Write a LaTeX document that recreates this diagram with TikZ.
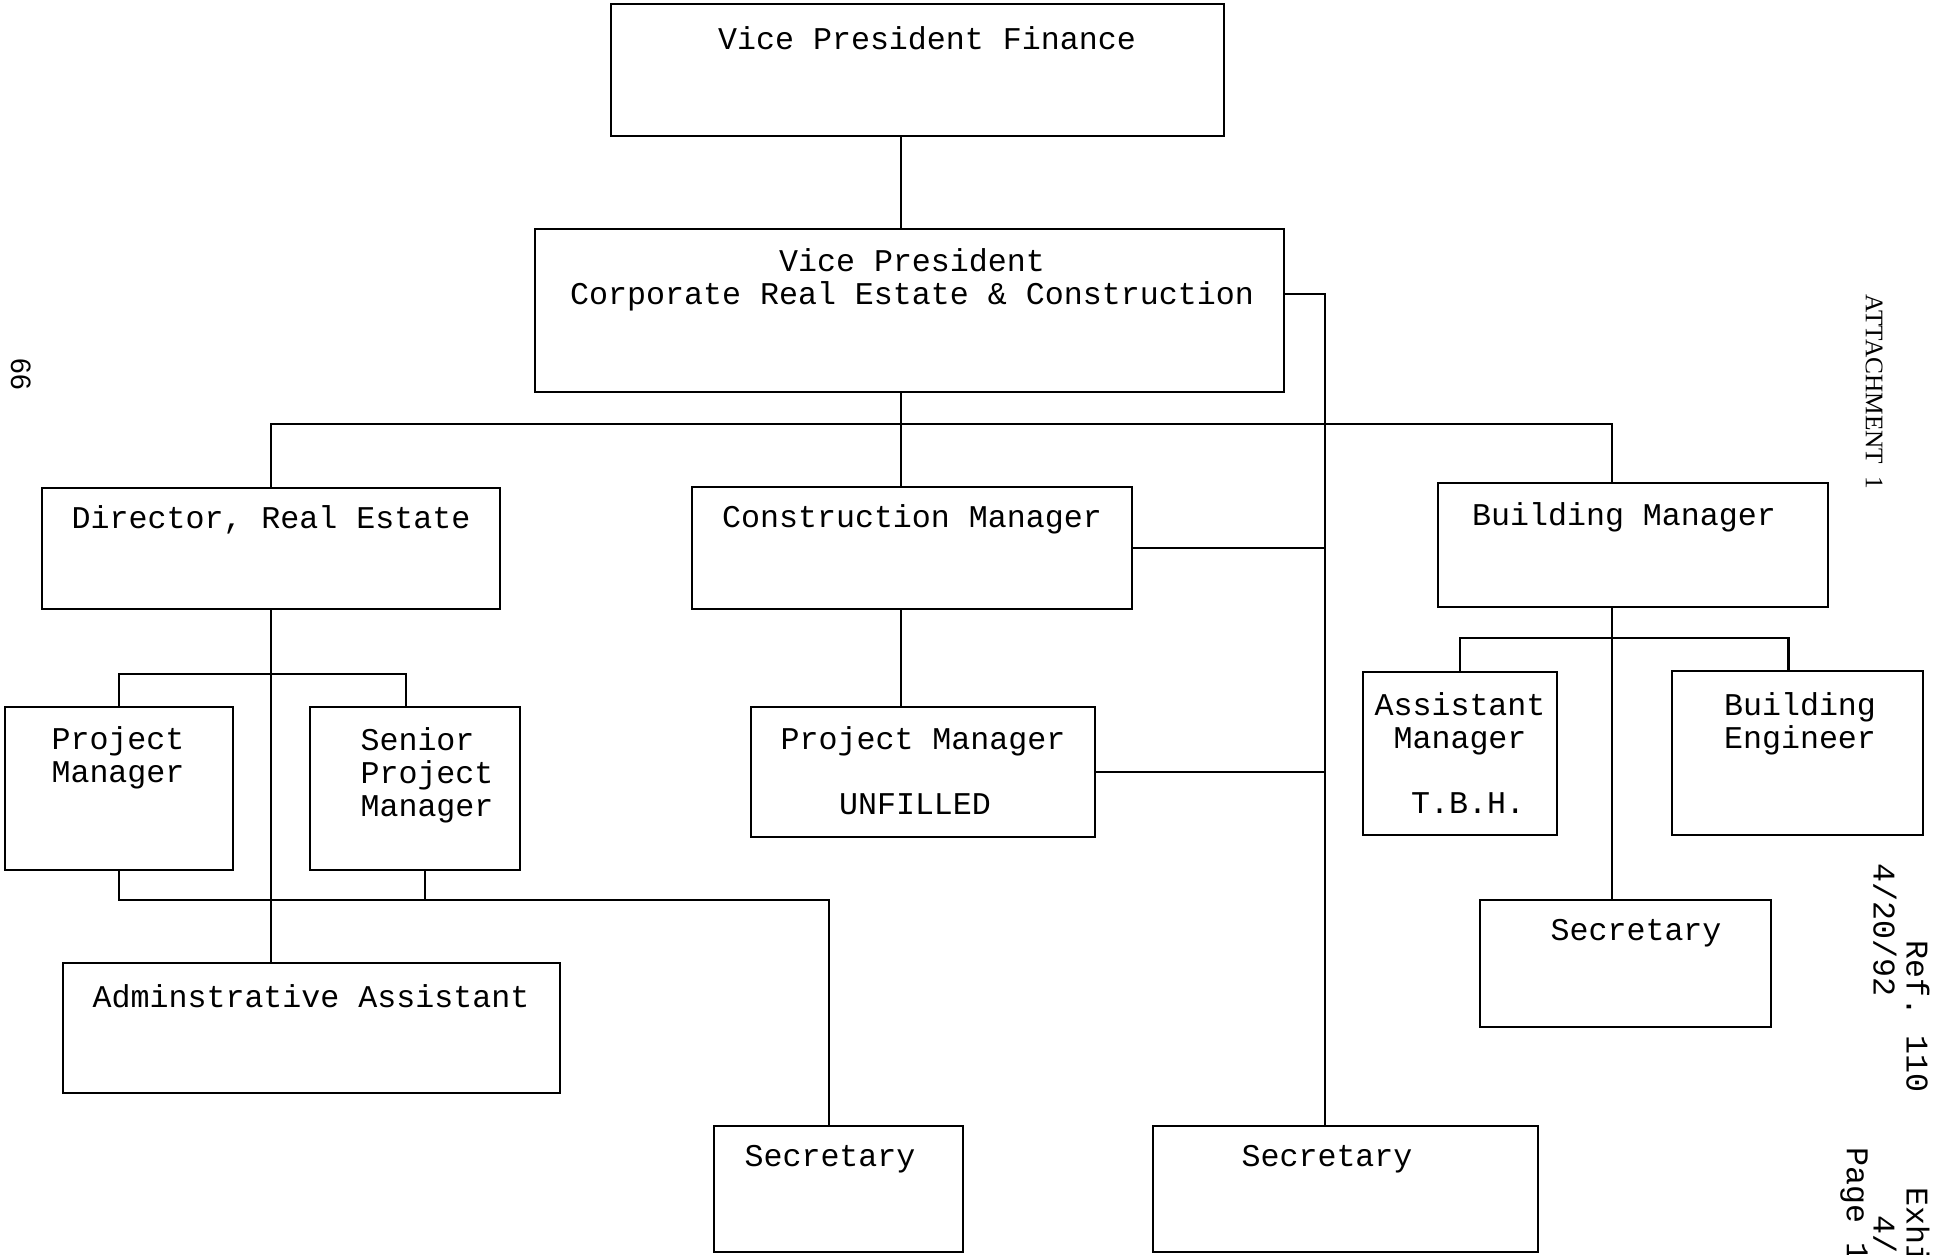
\documentclass[tikz,border=0pt]{standalone}
\usepackage{fontspec}
\setmainfont{Liberation Serif}
\setsansfont{Liberation Sans}
\setmonofont{Liberation Mono}
\usetikzlibrary{fit}

\begin{document}
\begin{tikzpicture}[x=0.01cm,y=-0.01cm,
    box/.style={draw, line width=0.7pt, inner sep=0pt},
    post/.style={font=\ttfamily\fontsize{9}{9.4}\selectfont, inner sep=0pt, align=center},
    margin/.style={font=\ttfamily\fontsize{9}{9.4}\selectfont, inner sep=0pt, rotate=-90, anchor=west},
    line/.style={line width=0.7pt}]
  \useasboundingbox (0,0) rectangle (1934,1254);

  % boxes
  \node[box, fit={(611,4) (1224,136)}] (vpf) {};
  \node[box, fit={(535,229) (1284,392)}] (vpc) {};
  \node[box, fit={(42,488) (500,609)}] (dir) {};
  \node[box, fit={(692,487) (1132,609)}] (cm) {};
  \node[box, fit={(1438,483) (1828,607)}] (bm) {};
  \node[box, fit={(5,707) (233,870)}] (pm) {};
  \node[box, fit={(310,707) (520,870)}] (spm) {};
  \node[box, fit={(751,707) (1095,837)}] (pmu) {};
  \node[box, fit={(1363,672) (1557,835)}] (am) {};
  \node[box, fit={(1672,671) (1923,835)}] (be) {};
  \node[box, fit={(1480,900) (1771,1027)}] (secr) {};
  \node[box, fit={(63,963) (560,1093)}] (aa) {};
  \node[box, fit={(714,1126) (963,1252)}] (sec1) {};
  \node[box, fit={(1153,1126) (1538,1252)}] (sec2) {};

  % titles
  \node[post] (vpf-t) at (927,38) {Vice President Finance};
  \node[post] (vpc-t) at (912,280) {Vice President\\Corporate Real Estate \& Construction};
  \node[post] (dir-t) at (271,520) {Director, Real Estate};
  \node[post] (cm-t) at (912,519) {Construction Manager};
  \node[post] (bm-t) at (1624,517) {Building Manager};
  \node[post] (pm-t) at (118,758) {Project\\Manager};
  \node[post, align=left] (spm-t) at (427,775) {Senior\\Project\\Manager};
  \node[post] (pmu-t) at (923,741) {Project Manager};
  \node[post] (pmu-u) at (915,804) {UNFILLED};
  \node[post] (am-t) at (1460,724) {Assistant\\Manager};
  \node[post] (am-u) at (1468,803) {T.B.H.};
  \node[post] (be-t) at (1800,724) {Building\\Engineer};
  \node[post] (secr-t) at (1636,933) {Secretary};
  \node[post] (aa-t) at (311,996) {Adminstrative Assistant};
  \node[post] (sec1-t) at (830,1159) {Secretary};
  \node[post] (sec2-t) at (1327,1159) {Secretary};

  % connectors
  \coordinate (spine) at (901,424);
  \coordinate (rail) at (1325,294);
  \coordinate (bmx) at (1612,0);
  \coordinate (secbus) at (829,900);
  \coordinate (spmx) at (425,900);

  \draw[line] (vpf.south -| spine) -- (vpc.north -| spine);
  \draw[line] (vpc.south -| spine) -- (cm.north -| spine);
  \draw[line] (dir.north) |- (spine) -| (bm.north -| bmx);
  \draw[line] (cm.south -| spine) -- (pmu.north -| spine);
  \draw[line] (vpc.east |- rail) -- (rail) -- (sec2.north -| rail);
  \draw[line] (cm.east) -- (cm.east -| rail);
  \draw[line] (pmu.east) -- (pmu.east -| rail);
  \draw[line] (dir.south) -- (aa.north -| dir.south);
  \draw[line] (pm.north) -- ++(0,-32) -| ([xshift=-0.09cm]spm.north);
  \draw[line] (pm.south) |- (secbus) -- (sec1.north -| secbus);
  \draw[line] (spm.south -| spmx) -- (spmx);
  \draw[line] (bm.south -| bmx) -- (secr.north -| bmx);
  \draw[line] (am.north) -- ++(0,-33) -| ([xshift=-0.09cm]be.north);

  % margin notes
  \node[margin, font=\rmfamily\fontsize{7.2}{9}\selectfont] (att) at (1874,294) {ATTACHMENT\ \ 1};
  \node[margin] (ref) at (1918,940) {Ref. 110};
  \node[margin] (date) at (1885,863) {4/20/92};
  \node[margin] (exh) at (1918,1187) {Exhi};
  \node[margin] (exd) at (1885,1215) {4/};
  \node[margin] (page) at (1854,1147) {Page 1};
  \node[margin, font=\sffamily\fontsize{8}{9}\selectfont] (num) at (21,358) {66};
\end{tikzpicture}
\end{document}
